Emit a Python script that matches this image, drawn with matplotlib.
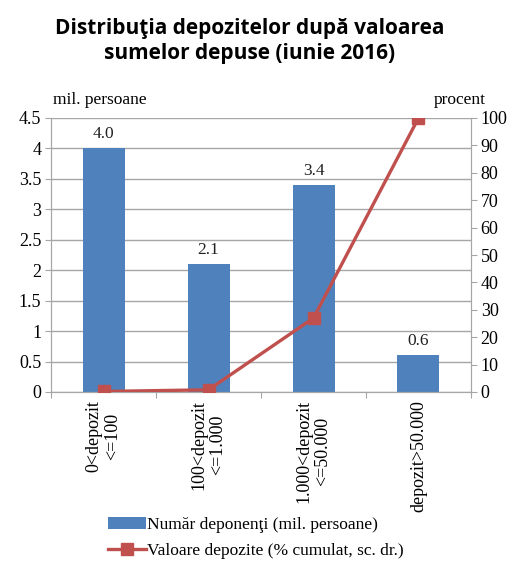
import numpy as np
import matplotlib.pyplot as plt
from matplotlib.lines import Line2D
from matplotlib.patches import Patch

# deponenti pe intervale de depozit
categories = ["0<depozit\n<=100", "100<depozit\n<=1.000", "1.000<depozit\n<=50.000", "depozit>50.000"]
deponenti = [4.0, 2.1, 3.4, 0.6]          # mil. persoane
valoare_cumulat = [0.2, 0.8, 27.0, 100.0]  # % cumulat

bar_color = "#4F81BD"
line_color = "#C0504D"
grid_color = "#A6A6A6"
serif = "Liberation Serif"

fig = plt.figure(figsize=(5.13, 5.63), dpi=100)
ax = fig.add_axes([51/513, 1 - 392/563, 420/513, 274/563])
ax2 = ax.twinx()

x = np.arange(len(categories))
ax.bar(x, deponenti, width=0.4, color=bar_color, zorder=2)
for xi, v in zip(x, deponenti):
    ax.text(xi, v + 0.1, f"{v:.1f}", ha="center", va="bottom",
            fontsize=12.5, family=serif, color="#222222")

ax2.plot(x, valoare_cumulat, color=line_color, lw=2.4, marker="s",
         markersize=8, zorder=3)

ax.set_xlim(-0.5, 3.5)
ax.set_ylim(0, 4.5)
ax.set_yticks(np.arange(0, 4.51, 0.5))
ax.set_yticklabels(["0", "0.5", "1", "1.5", "2", "2.5", "3", "3.5", "4", "4.5"])
ax2.set_ylim(0, 100)
ax2.set_yticks(np.arange(0, 101, 10))

ax.yaxis.grid(True, color=grid_color, lw=1.0, zorder=0)
ax.set_axisbelow(True)

# tick marks at category boundaries, labels at centers
ax.set_xticks(np.arange(-0.5, 3.6, 1.0))
ax.set_xticklabels([])
ax.set_xticks(x, minor=True)
ax.set_xticklabels(categories, minor=True, rotation=90, va="top", ha="center",
                   fontsize=13, family=serif, linespacing=1.1)
ax.tick_params(axis="x", which="minor", length=0, pad=6)
ax.tick_params(axis="x", which="major", length=4, color=grid_color, direction="out")

for a in (ax, ax2):
    a.tick_params(axis="y", length=4, color=grid_color, labelsize=13)
    for lab in a.get_yticklabels():
        lab.set_family(serif)
    a.spines["top"].set_visible(False)
    for s in ("left", "right", "bottom"):
        a.spines[s].set_color(grid_color)
ax.tick_params(axis="y", direction="out", pad=3)
ax2.tick_params(axis="y", direction="out", pad=3)

fig.text(53/513, 1 - 100/563, "mil. persoane", fontsize=12.5, family=serif, va="center")
fig.text(486/513, 1 - 100/563, "procent", fontsize=12.5, family=serif, va="center", ha="right")

fig.text(250/513, 1 - 41/563, "Distribuţia depozitelor după valoarea\nsumelor depuse (iunie 2016)",
         ha="center", va="center", fontsize=15, fontweight="bold",
         family="Open Sans", linespacing=1.25)

handles = [Patch(facecolor=bar_color, edgecolor="none"),
           Line2D([0], [0], color=line_color, lw=2.4, marker="s", markersize=8)]
labels = ["Număr deponenţi (mil. persoane)", "Valoare depozite (% cumulat, sc. dr.)"]
fig.legend(handles, labels, loc="center", bbox_to_anchor=(256/513, 1 - 538/563),
           frameon=False, prop={"family": serif, "size": 12.5},
           handlelength=2.2, handletextpad=0.05, labelspacing=0.6)

fig.savefig("out.png", dpi=100)
